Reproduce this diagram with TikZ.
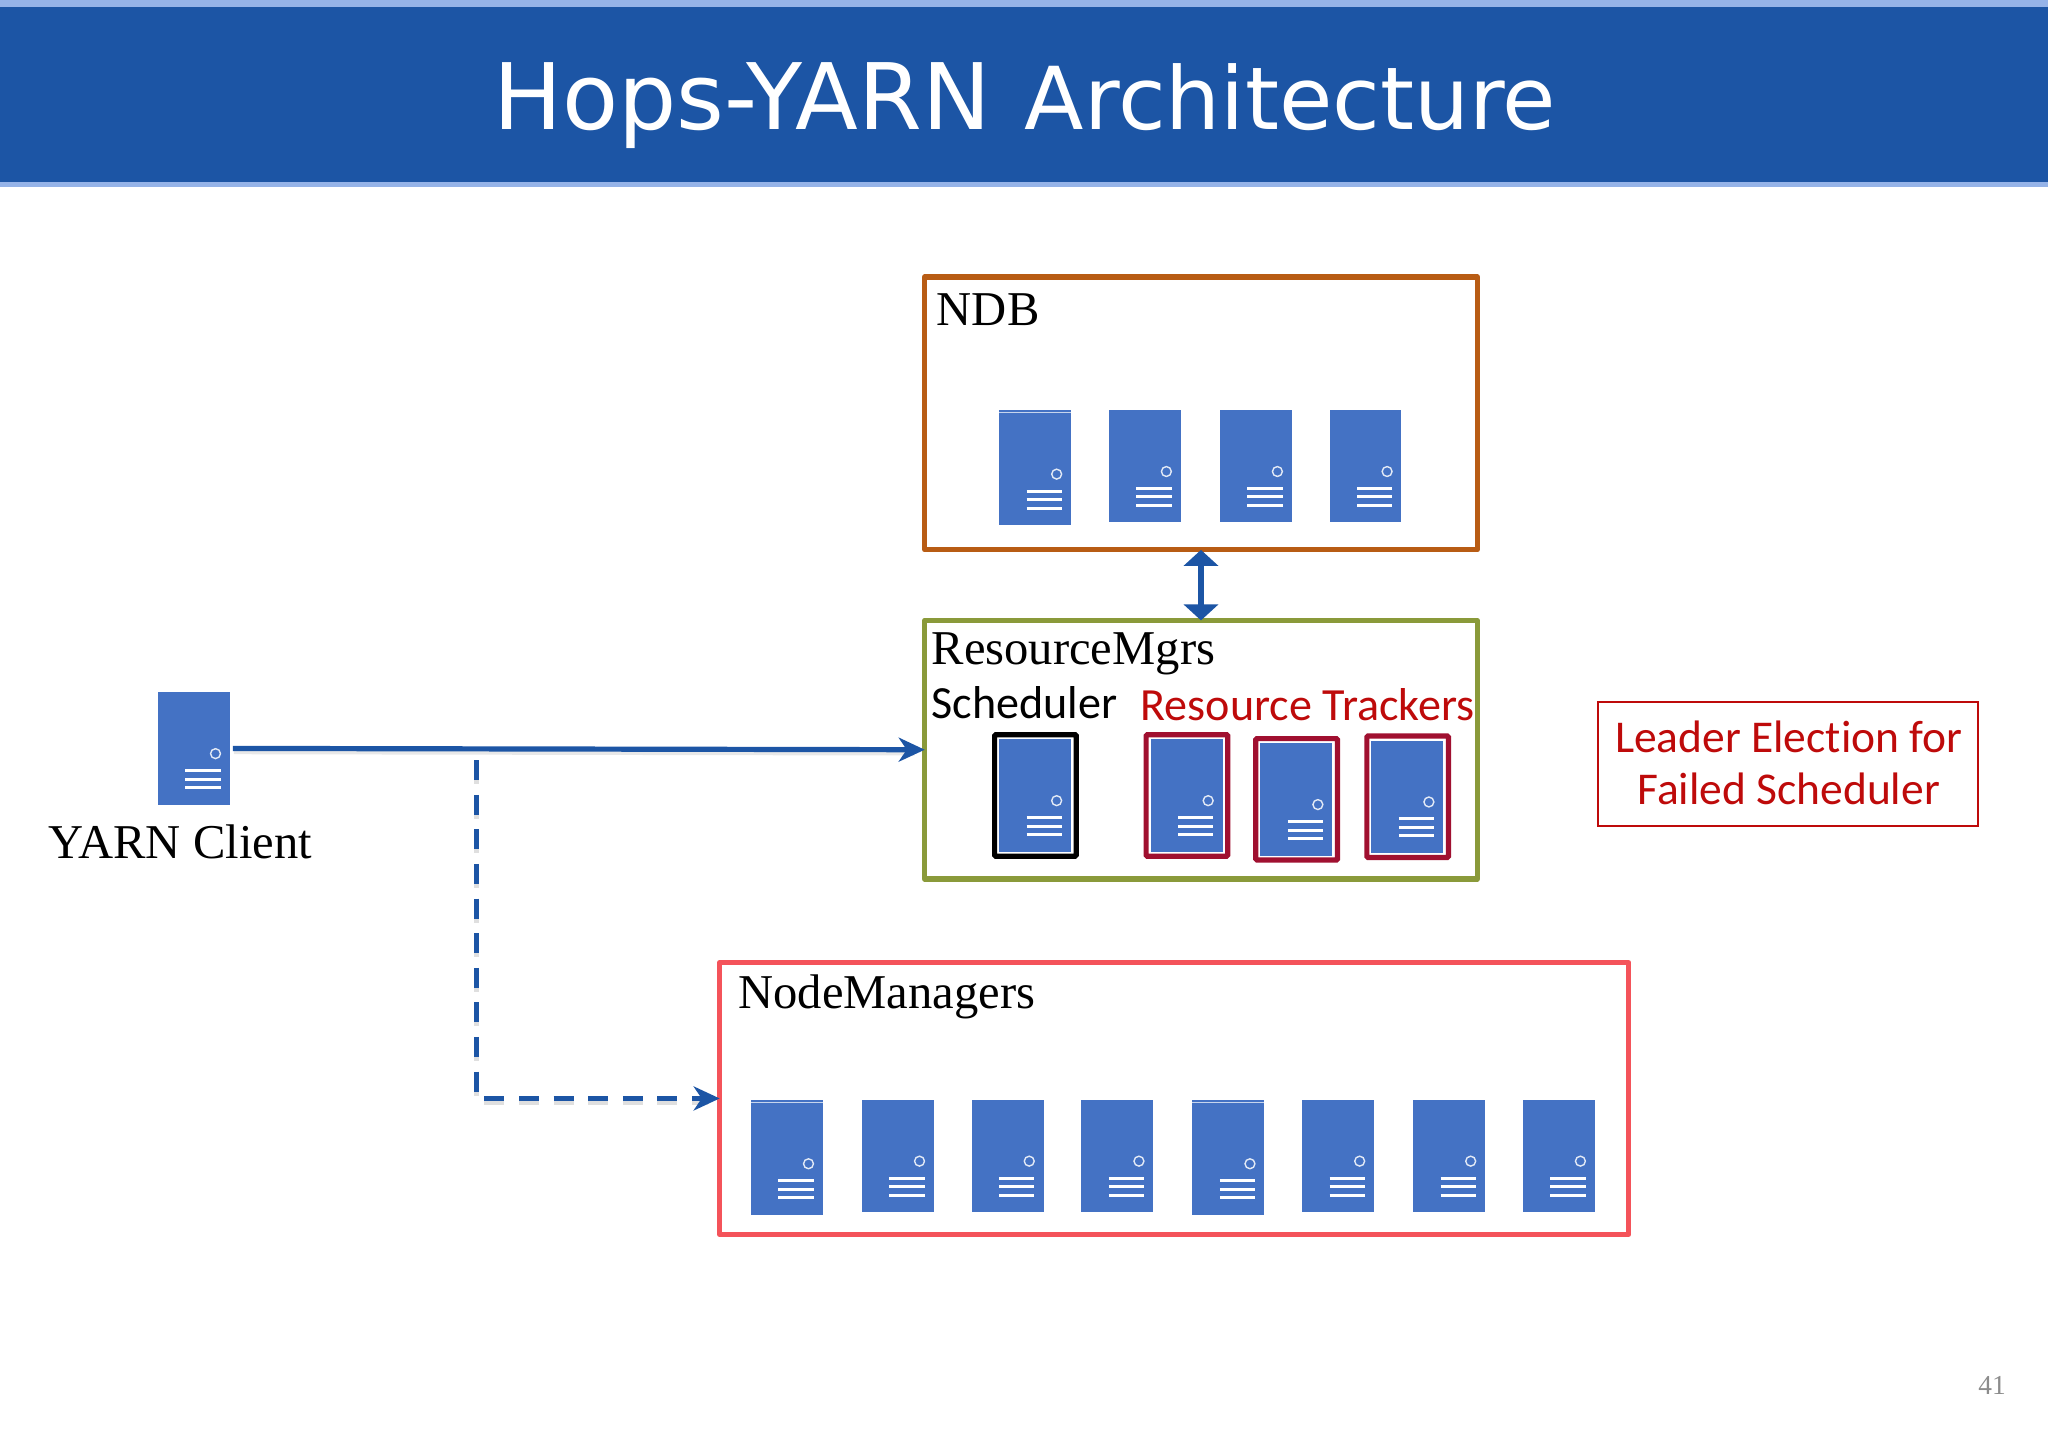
\documentclass[tikz,border=0pt]{standalone}
\usepackage{fontspec}
\setmainfont{Liberation Serif}
\newfontfamily\titlefont{DejaVu Sans}
\newfontfamily\calfont[Ligatures=NoCommon]{Carlito}
\usetikzlibrary{arrows.meta}
\definecolor{bannerblue}{HTML}{1C55A5}
\definecolor{stripeblue}{HTML}{95B3E8}
\definecolor{serverblue}{HTML}{4472C4}
\definecolor{ndborange}{HTML}{B85C14}
\definecolor{rmolive}{HTML}{8A9A3A}
\definecolor{nmred}{HTML}{F4535A}
\definecolor{framered}{HTML}{A01030}
\definecolor{labelred}{HTML}{BE0A0A}
\definecolor{pagegray}{HTML}{8C8C8C}
\def\uu{0.6531pt}
\tikzset{
  x=\uu, y=-\uu,
  server/.style={fill=serverblue,draw=none,inner sep=0pt,outer sep=0pt,anchor=north west,minimum width=55*\uu,minimum height=#1*\uu},
  server/.default=86,
  sline/.style={draw=white,line width=1.5pt},
  sdot/.style={draw=white!85!serverblue,line width=0.7pt},
  groupbox/.style={draw=#1,line width=2.6pt,fill=white,inner sep=0pt,outer sep=0pt,anchor=north west,line join=round},
  hostframe/.style={draw=#1,line width=2.6pt,fill=white,inner sep=0pt,outer sep=0pt,anchor=north west,minimum width=62.5*\uu,minimum height=93*\uu,rounded corners=0.6pt},
  serif/.style={font=\fontsize{24.3}{28}\selectfont,anchor=base west,inner sep=0pt,text=black},
  carl/.style={font=\calfont\fontsize{23.05}{28}\selectfont,anchor=base west,inner sep=0pt},
  carlsmall/.style={font=\calfont\fontsize{22.75}{28}\selectfont,anchor=base,inner sep=0pt,text=labelred},
  flow/.style={draw=bannerblue,line width=2.6pt,-{Stealth[length=13pt,width=12pt,inset=4pt]}},
  flowshade/.style={draw=black!18,line width=2.6pt},
  dashpat/.style={dash pattern=on 10pt off 7.3pt},
}
\newcommand{\srv}[3]{%
  \begin{scope}[shift={(#2,#3)}]
    \node[server] (#1) at (0,0) {};
    \draw[sdot] (44,47) circle[radius=3.8];
    \draw[sline] (21,60) -- (48,60);
    \draw[sline] (21,66.5) -- (48,66.5);
    \draw[sline] (21,73) -- (48,73);
  \end{scope}}
\newcommand{\srvtop}[3]{%
  \begin{scope}[shift={(#2,#3)}]
    \node[server=88] (#1) at (0,0) {};
    \draw[draw=white!70!serverblue,line width=0.7pt] (0,2) -- (55,2);
    \draw[sdot] (44,49) circle[radius=3.8];
    \draw[sline] (21,62) -- (48,62);
    \draw[sline] (21,68.5) -- (48,68.5);
    \draw[sline] (21,75) -- (48,75);
  \end{scope}}
\begin{document}
\begin{tikzpicture}
\useasboundingbox (0,0) rectangle (1568,1108.6);
% banner
\fill[stripeblue] (0,0) rectangle (1568,143);
\fill[bannerblue] (0,5) rectangle (1568,139);
\node[font=\titlefont,text=white,anchor=base,inner sep=0pt] (title) at (784.5,99) {\fontsize{45.9}{50}\selectfont Hops-YARN\hspace{2.5pt} \fontsize{43.4}{50}\selectfont Architecture};
% group boxes
\node[groupbox=ndborange,minimum width=423*\uu,minimum height=209*\uu] (ndb) at (708,212) {};
\node[groupbox=rmolive,minimum width=423*\uu,minimum height=198*\uu] (rm) at (708,475) {};
\node[groupbox=nmred,minimum width=696*\uu,minimum height=208*\uu] (nm) at (551,737) {};
% NDB
\node[serif] (ndblabel) at (717,249) {NDB};
\srvtop{n1}{765}{314}
\srv{n2}{849}{314}
\srv{n3}{934}{314}
\srv{n4}{1018}{314}
% ResourceMgrs
\node[serif] (rmlabel) at (713,509) {ResourceMgrs};
\node[carl,text=black] (schedlabel) at (713,550) {Scheduler};
\node[carl,text=labelred] (rtlabel) at (873,552) {Resource Trackers};
\node[hostframe=black] (f0) at (761.5,562.5) {};
\srv{s0}{765}{566}
\node[hostframe=framered] (f1) at (877.5,562.5) {};
\srv{r1}{881}{566}
\node[hostframe=framered] (f2) at (961.5,565.5) {};
\srv{r2}{965}{569}
\node[hostframe=framered] (f3) at (1046.5,563.5) {};
\srv{r3}{1050}{567}
% NodeManagers
\node[serif] (nmlabel) at (565,772) {NodeManagers};
\srvtop{m1}{575}{842}
\srv{m2}{660}{842}
\srv{m3}{744}{842}
\srv{m4}{828}{842}
\srvtop{m5}{913}{842}
\srv{m6}{997}{842}
\srv{m7}{1082}{842}
\srv{m8}{1166}{842}
% client
\srv{client}{121}{530}
\node[serif] (clientlabel) at (37,657) {YARN Client};
% leader box
\node[draw=labelred,line width=0.9pt,fill=white,inner sep=0pt,anchor=north west,minimum width=291*\uu,minimum height=95*\uu] (leader) at (1223,537) {};
\node[carlsmall] (leader1) at (1369.5,576) {Leader Election for};
\node[carlsmall] (leader2) at (1369.5,616) {Failed Scheduler};
% page number
\node[font=\fontsize{13.7}{16}\selectfont,text=pagegray,anchor=base east,inner sep=0pt] (page) at (1536,1068) {41};
% connectors
\coordinate (tap) at (365,582);
\draw[flowshade,dashpat,opacity=.7] ([yshift=-2pt]tap) |- ([yshift=-2pt,xshift=-6pt]nm.west);
\draw[flowshade,opacity=.5] ([xshift=2pt,yshift=-1.6pt]client.east) -- ([xshift=-5pt,yshift=-1.6pt]rm.west);
\draw[flow] ([xshift=1.5pt]client.east) -- (rm.west);
\draw[flow,dashpat] (tap) |- (nm.west);
\draw[draw=bannerblue,line width=3.2pt,{Stealth[length=8pt,width=17pt,inset=0pt]}-{Stealth[length=8pt,width=17pt,inset=0pt]}] (ndb.south) -- (rm.north);
\end{tikzpicture}
\end{document}
